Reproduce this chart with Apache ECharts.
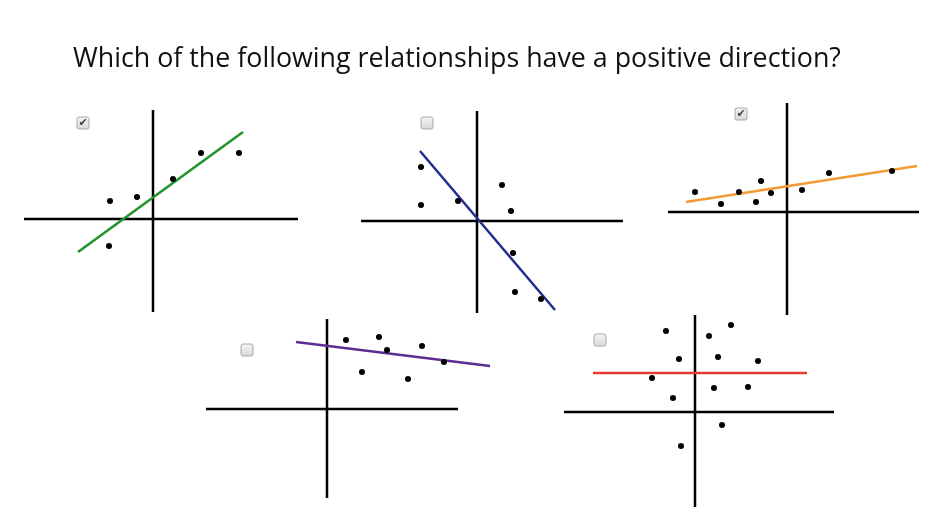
<!DOCTYPE html>
<html><head><meta charset="utf-8">
<script src="https://cdn.jsdelivr.net/npm/echarts@6/dist/echarts.min.js"></script>
<style>html,body{margin:0;padding:0;background:#fff}#c{width:950px;height:532px}</style>
</head><body><div id="c"></div>
<script>
const titleText = "Which of the following relationships have a positive direction?";

// Panel 1 (positive, green)
const p1PointsX = [-43, -16, 20, 48, 86, -44];
const p1PointsY = [18, 22, 40, 66, 66, -27];
const p1LineX = [-75, 90];
const p1LineY = [-33, 87];
const p1AxisX = [-129, 145];
const p1AxisY = [-93, 109];
const p1Checked = true;

// Panel 2 (negative, blue)
const p2PointsX = [-56, -56, -19, 25, 34, 36, 38, 64];
const p2PointsY = [54, 16, 20, 36, 10, -32, -71, -78];
const p2LineX = [-57, 78];
const p2LineY = [70, -89];
const p2AxisX = [-116, 146];
const p2AxisY = [-92, 110];
const p2Checked = false;

// Panel 3 (positive, orange)
const p3PointsX = [-92, -66, -48, -26, -31, -16, 15, 42, 105];
const p3PointsY = [20, 8, 20, 31, 10, 19, 22, 39, 41];
const p3LineX = [-101, 130];
const p3LineY = [10, 46];
const p3AxisX = [-119, 132];
const p3AxisY = [-103, 109];
const p3Checked = true;

// Panel 4 (negative, purple)
const p4PointsX = [19, 52, 60, 35, 95, 81, 117];
const p4PointsY = [69, 72, 59, 37, 63, 30, 47];
const p4LineX = [-31, 163];
const p4LineY = [67, 43];
const p4AxisX = [-121, 131];
const p4AxisY = [-89, 90];
const p4Checked = false;

// Panel 5 (no direction, red)
const p5PointsX = [-29, 14, 36, -16, 23, 63, -43, 19, 53, -22, 27, -14];
const p5PointsY = [81, 76, 87, 53, 55, 51, 34, 24, 25, 14, -13, -34];
const p5LineX = [-102, 112];
const p5LineY = [39, 39];
const p5AxisX = [-131, 139];
const p5AxisY = [-95, 97];
const p5Checked = false;

const panels = [
  {px: p1PointsX, py: p1PointsY, lx: p1LineX, ly: p1LineY, ax: p1AxisX, ay: p1AxisY, checked: p1Checked,
   origin: [153, 219], color: '#22922b', box: [77, 117]},
  {px: p2PointsX, py: p2PointsY, lx: p2LineX, ly: p2LineY, ax: p2AxisX, ay: p2AxisY, checked: p2Checked,
   origin: [477, 221], color: '#1f2d8f', box: [421, 117]},
  {px: p3PointsX, py: p3PointsY, lx: p3LineX, ly: p3LineY, ax: p3AxisX, ay: p3AxisY, checked: p3Checked,
   origin: [787, 212], color: '#f39a33', box: [735, 108]},
  {px: p4PointsX, py: p4PointsY, lx: p4LineX, ly: p4LineY, ax: p4AxisX, ay: p4AxisY, checked: p4Checked,
   origin: [327, 409], color: '#5c2d91', box: [241, 344]},
  {px: p5PointsX, py: p5PointsY, lx: p5LineX, ly: p5LineY, ax: p5AxisX, ay: p5AxisY, checked: p5Checked,
   origin: [695, 412], color: '#e53a2e', box: [594, 334]}
];

const grids = [], xAxes = [], yAxes = [], series = [], graphics = [];
panels.forEach((p, i) => {
  const xmin = Math.min(p.ax[0], ...p.lx, ...p.px);
  const xmax = Math.max(p.ax[1], ...p.lx, ...p.px);
  const ymin = Math.min(p.ay[0], ...p.ly, ...p.py);
  const ymax = Math.max(p.ay[1], ...p.ly, ...p.py);
  grids.push({left: p.origin[0] + xmin, top: p.origin[1] - ymax,
              width: xmax - xmin, height: ymax - ymin, containLabel: false});
  xAxes.push({type: 'value', gridIndex: i, min: xmin, max: xmax, show: false});
  yAxes.push({type: 'value', gridIndex: i, min: ymin, max: ymax, show: false});
  const common = {xAxisIndex: i, yAxisIndex: i, silent: true, animation: false};
  series.push(Object.assign({type: 'line', data: [[p.ax[0], 0], [p.ax[1], 0]], symbol: 'none',
    lineStyle: {color: '#000', width: 2.5}, clip: false, z: 2}, common));
  series.push(Object.assign({type: 'line', data: [[0, p.ay[0]], [0, p.ay[1]]], symbol: 'none',
    lineStyle: {color: '#000', width: 2.5}, clip: false, z: 2}, common));
  series.push(Object.assign({type: 'line', data: [[p.lx[0], p.ly[0]], [p.lx[1], p.ly[1]]], symbol: 'none',
    lineStyle: {color: p.color, width: 2.5}, clip: false, z: 3}, common));
  series.push(Object.assign({type: 'scatter', data: p.px.map((x, k) => [x, p.py[k]]),
    symbolSize: 6, itemStyle: {color: '#000', opacity: 1}, clip: false, z: 4}, common));
  const children = [{type: 'rect', shape: {x: 0, y: 0, width: 12, height: 12, r: 2},
    style: {fill: {type: 'linear', x: 0, y: 0, x2: 0, y2: 1,
      colorStops: [{offset: 0, color: '#f6f6f6'}, {offset: 1, color: '#d8d8d8'}]},
      stroke: '#a8a8a8', lineWidth: 1}}];
  if (p.checked) children.push({type: 'text', x: 6, y: 6.5,
    style: {text: '\u2714', fill: '#444', font: 'bold 11px "DejaVu Sans"', align: 'center', verticalAlign: 'middle'}});
  graphics.push({type: 'group', x: p.box[0], y: p.box[1], children: children});
});

const chart = echarts.init(document.getElementById('c'));
chart.setOption({
  animation: false,
  backgroundColor: '#fff',
  title: {text: titleText, left: 68, top: 41,
    textStyle: {fontFamily: '"Open Sans", sans-serif', fontSize: 26.8, fontWeight: 'normal', color: '#111'}},
  grid: grids, xAxis: xAxes, yAxis: yAxes, series: series, graphic: graphics
});
</script></body></html>
